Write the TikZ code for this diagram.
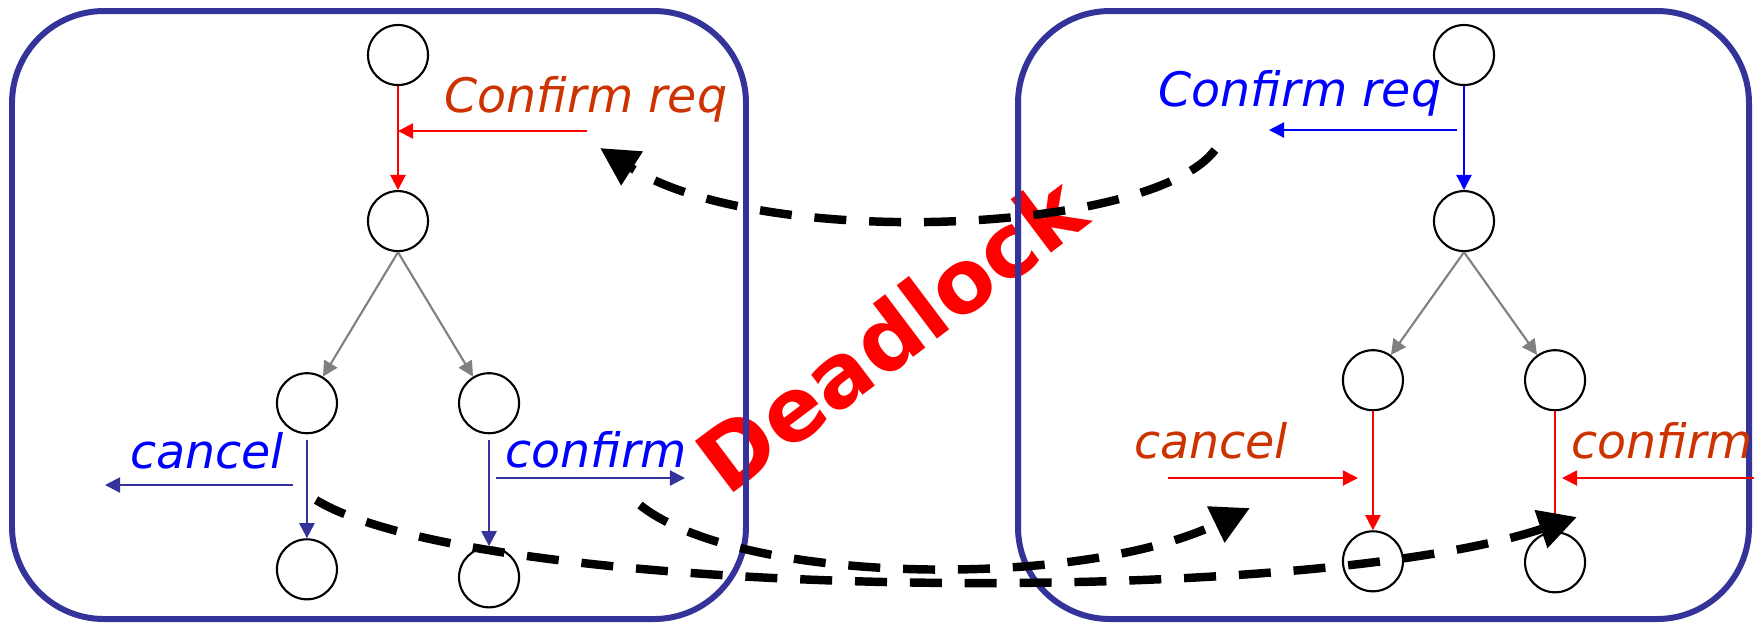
\documentclass[tikz,border=0pt]{standalone}
\usepackage{fontspec}
\setsansfont{DejaVu Sans}
\usepackage{xcolor}
\usepackage{tikz}
\usetikzlibrary{positioning, arrows.meta}
\definecolor{panelblue}{RGB}{51,51,153}
\definecolor{msgblue}{RGB}{0,0,255}
\definecolor{msgorange}{RGB}{204,51,0}
\definecolor{edgegray}{RGB}{128,128,128}

\begin{document}
\begin{tikzpicture}[
  x=0.01cm, y=-0.01cm,
  state/.style={circle, draw, line width=0.6pt, minimum size=0.6cm, inner sep=0pt},
  panel/.style={draw=panelblue, line width=1.7pt, rounded corners=0.92cm},
  msg/.style={font=\sffamily\itshape\fontsize{13.5}{16}\selectfont, inner sep=0pt, anchor=base},
  arr/.style={line width=0.6pt, -{Triangle[length=4.3pt, width=4.3pt]}},
  deadarrow/.style={line width=2.4pt, dash pattern=on 9.1pt off 6.5pt, -{Triangle[length=0.38cm, width=0.38cm]}},
  node distance=1.66cm, on grid
]
\useasboundingbox (0,0) rectangle (1754,623);

\node[font=\sffamily\bfseries\fontsize{25}{30}\selectfont, text=red, rotate=37, anchor=base, inner sep=0pt] (deadlock) at (910,360) {Deadlock};

\draw[panel] (12,11) rectangle (746,619);
\draw[panel] (1018,11) rectangle (1749,619);

% left party
\node[state] (l1) at (398,55) {};
\node[state, below=of l1] (l2) {};
\node[state, below left=1.82cm and 0.91cm of l2] (l3) {};
\node[state, below right=1.82cm and 0.91cm of l2] (l4) {};
\node[state, below=of l3] (l5) {};
\node[state, below=1.74cm of l4] (l6) {};

\draw[arr, red] (l1) -- (l2);
\draw[arr, edgegray] (l2.south) -- (l3);
\draw[arr, edgegray] (l2.south) -- (l4);
\draw[arr, panelblue, shorten <=1.5pt] (l3) -- (l5);
\draw[arr, panelblue, shorten <=1.5pt] (l4) -- (l6);

\coordinate (lreq) at (587,131);
\coordinate (lcancel) at (105,485);
\coordinate (lconfirm) at (685,478);
\draw[arr, red] (lreq) -- (lreq -| l1);
\draw[arr, panelblue] ([xshift=-0.14cm]l3 |- lcancel) -- (lcancel);
\draw[arr, panelblue] ([xshift=0.07cm]l4 |- lconfirm) -- (lconfirm);

\node[msg, msgorange] (lreqlbl) at (586,112) {Confirm req};
\node[msg, msgblue] (lcancellbl) at (207,468) {cancel};
\node[msg, msgblue] (lconfirmlbl) at (596,467) {confirm};

% right party
\node[state] (r1) at (1464,55) {};
\node[state, below=of r1] (r2) {};
\node[state, below left=1.59cm and 0.91cm of r2] (r3) {};
\node[state, below right=1.59cm and 0.91cm of r2] (r4) {};
\node[state, below=1.81cm of r3] (r5) {};
\node[state, below=1.82cm of r4] (r6) {};

\draw[arr, msgblue] (r1) -- (r2);
\draw[arr, edgegray] (r2.south) -- (r3);
\draw[arr, edgegray] (r2.south) -- (r4);
\draw[arr, red] (r3) -- (r5);
\draw[arr, red] (r4) -- (r6);

\coordinate (rreq) at (1269,130);
\coordinate (rcancel) at (1168,478);
\coordinate (rconfirm) at (1754,478);
\draw[arr, msgblue] ([xshift=-0.07cm]r1 |- rreq) -- (rreq);
\draw[arr, red] (rcancel) -- ([xshift=-0.15cm]r3 |- rcancel);
\draw[arr, red] (rconfirm) -- ([xshift=0.07cm]r4 |- rconfirm);

\node[msg, msgblue] (rreqlbl) at (1300,106) {Confirm req};
\node[msg, msgorange] (rcancellbl) at (1211,458) {cancel};
\node[msg, msgorange] (rconfirmlbl) at (1662,458) {confirm};

% waiting for each other
\coordinate (d1s) at (1215,150);
\coordinate (d1e) at (600,148);
\coordinate (d2s) at (316,500);
\coordinate (d2e) at (1577,517);
\coordinate (d3s) at (640,505);
\coordinate (d3e) at (1250,508);
\draw[deadarrow] (d1s) .. controls (1150,235) and (760,250) .. (d1e);
\draw[deadarrow] (d2s) .. controls (480,600) and (1300,610) .. (d2e);
\draw[deadarrow] (d3s) .. controls (740,585) and (1080,590) .. (d3e);
\end{tikzpicture}
\end{document}
